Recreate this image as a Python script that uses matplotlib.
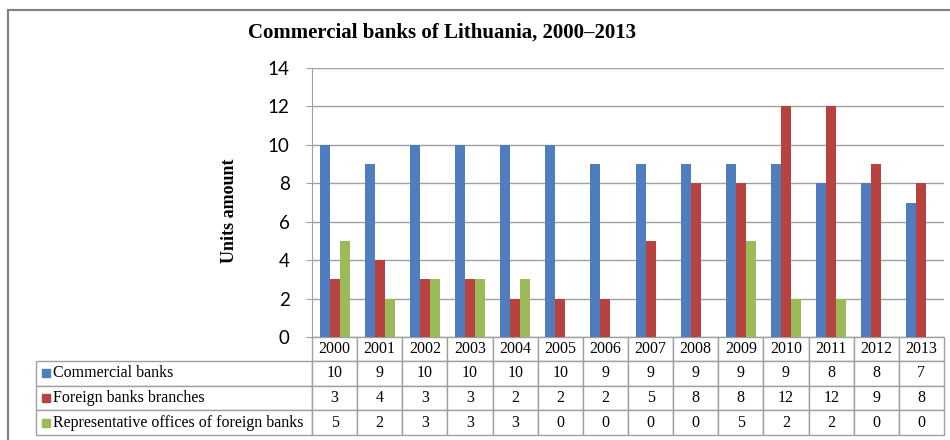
import matplotlib.pyplot as plt
import numpy as np
from matplotlib.table import Table
from matplotlib.patches import Rectangle
from matplotlib.lines import Line2D

years = ['2000', '2001', '2002', '2003', '2004', '2005', '2006',
         '2007', '2008', '2009', '2010', '2011', '2012', '2013']
commercial = [10, 9, 10, 10, 10, 10, 9, 9, 9, 9, 9, 8, 8, 7]
foreign_branches = [3, 4, 3, 3, 2, 2, 2, 5, 8, 8, 12, 12, 9, 8]
rep_offices = [5, 2, 3, 3, 3, 0, 0, 0, 0, 5, 2, 2, 0, 0]

series_names = ['Commercial banks', 'Foreign banks branches',
                'Representative offices of foreign banks']
series_values = [commercial, foreign_branches, rep_offices]
colors = ['#4F7DBD', '#B8423F', '#9BBB59']

W, H = 950, 440
fig = plt.figure(figsize=(9.5, 4.4), dpi=100)

# plot area in pixel terms
px_left, px_right, px_top, px_base = 312, 944, 68, 337
ax = fig.add_axes([px_left / W, 1 - px_base / H,
                   (px_right - px_left) / W, (px_base - px_top) / H])

n = len(years)
x = np.arange(n)
bw = 0.222
for k, (vals, c) in enumerate(zip(series_values, colors)):
    ax.bar(x + (k - 1) * bw, vals, width=bw, color=c, zorder=3)

ax.set_xlim(-0.5, n - 0.5)
ax.set_ylim(0, 14)
ax.set_yticks(range(0, 15, 2))
ax.set_xticks([])
ax.grid(axis='y', color='#a0a0a0', linewidth=1.0, zorder=0)
for s in ['top', 'right', 'bottom']:
    ax.spines[s].set_visible(False)
ax.spines['left'].set_color('#a0a0a0')
ax.tick_params(axis='y', length=4, color='#a0a0a0', labelsize=13.5, pad=12)
for lab in ax.get_yticklabels():
    lab.set_fontfamily('Lato')

ax.set_ylabel('Units amount', fontfamily='Liberation Serif',
              fontweight='bold', fontsize=13)
ax.yaxis.set_label_coords((238 - px_left) / (px_right - px_left), 0.47)

# data table under the plot; bbox covers the year grid, labels hang to the left
ax_h = px_base - px_top
ax_w = px_right - px_left
label_w = (px_left - 36) / ax_w
col_w = 1 / n
head_h = 24 / ax_h
row_h = 24.7 / ax_h
tbl_h = head_h + 3 * row_h
tbl = Table(ax, bbox=[0, -tbl_h, 1, tbl_h])
for j, yr in enumerate(years):
    tbl.add_cell(0, j, width=col_w, height=head_h, text=yr, loc='center')
for i, (name, vals) in enumerate(zip(series_names, series_values)):
    tbl.add_cell(i + 1, -1, width=label_w, height=row_h, text=name, loc='left')
    for j, v in enumerate(vals):
        tbl.add_cell(i + 1, j, width=col_w, height=row_h, text=str(v), loc='center')
tbl.auto_set_font_size(False)
for (r, c), cell in tbl.get_celld().items():
    cell.set_edgecolor('#a0a0a0')
    cell.set_linewidth(1.0)
    cell.PAD = 0.06 if c == -1 else 0.01
    cell.get_text().set_fontfamily('Liberation Serif')
    cell.get_text().set_fontsize(11.5)
ax.add_table(tbl)

# legend keys inside the label cells
for i, c in enumerate(colors):
    yc = -(head_h + (i + 0.5) * row_h)
    ax.add_patch(Rectangle((-label_w + 6 / ax_w, yc - 4 / ax_h), 8 / ax_w, 8 / ax_h,
                           transform=ax.transAxes, color=c, clip_on=False))

fig.text(442 / W, 1 - 33 / H, 'Commercial banks of Lithuania, 2000\u20132013',
         ha='center', va='center', fontfamily='Liberation Serif',
         fontweight='bold', fontsize=15)

# outer frame
fig.add_artist(Line2D([8 / W, 8 / W], [0, 1 - 10 / H], color='#808080', linewidth=1.5))
fig.add_artist(Line2D([8 / W, 1], [1 - 10 / H, 1 - 10 / H], color='#808080', linewidth=1.5))

fig.savefig('out.png', dpi=100)
